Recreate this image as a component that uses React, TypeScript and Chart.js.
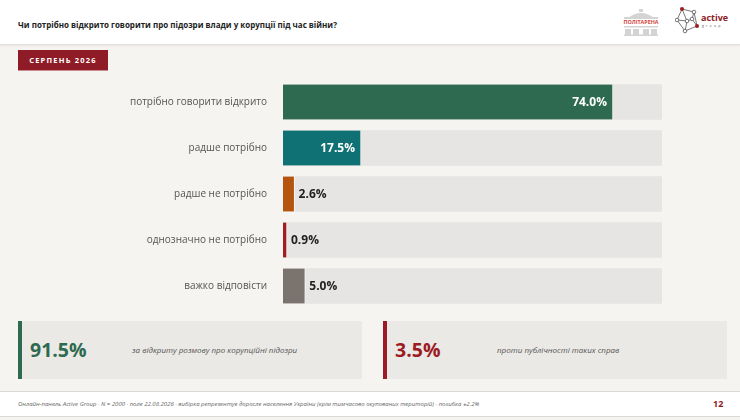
import React, { useEffect, useRef } from "react";
import { Chart, registerables } from "chart.js";

Chart.register(...registerables);

const titleText = "Чи потрібно відкрито говорити про підозри влади у корупції під час війни?";
const badgeText = "СЕРПЕНЬ 2026";
const categories = [
  "потрібно говорити відкрито",
  "радше потрібно",
  "радше не потрібно",
  "однозначно не потрібно",
  "важко відповісти",
];
const values = [74.0, 17.5, 2.6, 0.9, 5.0];
const barColors = ["#2e6a4f", "#0f7173", "#b5540e", "#a01d24", "#7b736d"];
const trackMax = 85;
const trackValues = categories.map(() => trackMax);
const summaryValues = [91.5, 3.5];
const summaryLabels = ["за відкриту розмову про корупційні підозри", "проти публічності таких справ"];
const summaryColors = ["#2e6a4f", "#9b1c24"];
const footerText =
  "Онлайн-панель Active Group · N = 2000 · поле 22.08.2026 · вибірка репрезентує доросле населення України (крім тимчасово окупованих територій) · похибка ±2.2%";
const pageNumber = "12";

const FONT = "'Open Sans', 'Noto Sans', 'DejaVu Sans', sans-serif";

const valueLabels = {
  id: "valueLabels",
  afterDatasetsDraw(chart: any) {
    const ctx = chart.ctx;
    const meta = chart.getDatasetMeta(0);
    ctx.save();
    ctx.font = `bold 12px ${FONT}`;
    ctx.textBaseline = "middle";
    meta.data.forEach((bar: any, i: number) => {
      const v = values[i];
      const txt = v.toFixed(1) + "%";
      if (v >= 10) {
        ctx.fillStyle = "#ffffff";
        ctx.textAlign = "right";
        ctx.fillText(txt, bar.x - 6, bar.y + 1);
      } else {
        ctx.fillStyle = "#222222";
        ctx.textAlign = "left";
        ctx.fillText(txt, bar.x + 4, bar.y + 1);
      }
    });
    ctx.restore();
  },
};

function PolitArenaLogo() {
  return (
    <svg width="40" height="30" viewBox="0 0 40 30" style={{ position: "absolute", left: 621, top: 6 }}>
      <path d="M7 12 Q20 2 33 12 Z" fill="#d4d4d4" />
      <rect x="18" y="3" width="4" height="3" fill="#d4d4d4" />
      <rect x="3" y="11" width="34" height="2" fill="#d4d4d4" />
      <text x="20" y="18" textAnchor="middle" fontSize="5.4" fontWeight="bold" fill="#d64541" fontFamily={FONT}>
        ПОЛІТАРЕНА
      </text>
      <rect x="3" y="20" width="34" height="1.5" fill="#d4d4d4" />
      <rect x="4" y="23" width="6" height="6" fill="#d4d4d4" />
      <rect x="12" y="23" width="6" height="6" fill="#d4d4d4" />
      <rect x="22" y="23" width="6" height="6" fill="#d4d4d4" />
      <rect x="30" y="23" width="6" height="6" fill="#d4d4d4" />
      <rect x="3" y="28.5" width="34" height="1.5" fill="#d4d4d4" />
    </svg>
  );
}

function ActiveLogo() {
  const nodes: [number, number, string][] = [
    [7, 3, "red"],
    [19, 6, "white"],
    [2, 14, "white"],
    [12, 15, "white"],
    [17, 13, "white"],
    [22, 20, "red"],
    [10, 25, "white"],
  ];
  const links = [
    [0, 1], [0, 2], [1, 4], [2, 3], [3, 4], [4, 5], [2, 6], [3, 6], [6, 5], [1, 5], [0, 3],
  ];
  return (
    <svg width="56" height="30" viewBox="0 0 56 30" style={{ position: "absolute", left: 675, top: 6 }}>
      {links.map(([a, b], i) => (
        <line key={i} x1={nodes[a][0]} y1={nodes[a][1]} x2={nodes[b][0]} y2={nodes[b][1]} stroke="#555" strokeWidth="0.8" />
      ))}
      {nodes.map(([x, y, c], i) => (
        <circle key={i} cx={x} cy={y} r={c === "red" ? 2 : 1.8} fill={c === "red" ? "#9b1c24" : "#fff"} stroke={c === "red" ? "none" : "#555"} strokeWidth="0.8" />
      ))}
      <text x="26" y="14.5" fontSize="9" fontWeight="bold" fill="#8e1b25" fontFamily={FONT}>
        active
      </text>
      <text x="27" y="21" fontSize="3.6" fill="#555" letterSpacing="2.1" fontFamily={FONT}>
        group
      </text>
    </svg>
  );
}

export default function App() {
  const canvasRef = useRef<HTMLCanvasElement | null>(null);

  useEffect(() => {
    if (!canvasRef.current) return;
    const chart = new Chart(canvasRef.current, {
      type: "bar",
      data: {
        labels: categories,
        datasets: [
          {
            data: values,
            backgroundColor: barColors,
            borderColor: "rgba(255,255,255,0.75)",
            borderWidth: { right: 1, left: 0, top: 0, bottom: 0 } as any,
            borderSkipped: false,
            barThickness: 35,
            grouped: false,
            order: 1,
          },
          {
            data: trackValues,
            backgroundColor: "#e6e5e3",
            borderWidth: 0,
            barThickness: 35,
            grouped: false,
            order: 2,
          },
        ],
      },
      plugins: [valueLabels],
      options: {
        indexAxis: "y",
        animation: false,
        responsive: false,
        maintainAspectRatio: false,
        events: [],
        layout: { padding: { left: 0, right: 78, top: 0, bottom: 0 } },
        scales: {
          x: { type: "linear", min: 0, max: trackMax, display: false },
          y: {
            type: "category",
            grid: { display: false, drawTicks: false },
            border: { display: false },
            ticks: {
              color: "#555555",
              padding: 16,
              font: { size: 10, family: FONT },
            },
            afterFit: (s: any) => {
              s.width = 283;
              s.paddingTop = 0;
              s.paddingBottom = 0;
            },
          },
        },
        plugins: { legend: { display: false }, tooltip: { enabled: false } },
      },
    });
    return () => chart.destroy();
  }, []);

  return (
    <div
      style={{
        position: "absolute",
        left: 0,
        top: 0,
        width: 740,
        height: 420,
        background: "#f5f4f1",
        fontFamily: FONT,
        overflow: "hidden",
      }}
    >
      <div
        style={{
          position: "absolute",
          left: 0,
          top: 0,
          width: 740,
          height: 44,
          background: "#ffffff",
          borderBottom: "1px solid #e1dfdb",
          boxShadow: "0 1px 2px rgba(0,0,0,0.06)",
        }}
      >
        <div
          style={{
            position: "absolute",
            left: 18,
            top: 19,
            fontSize: 8,
            fontWeight: 700,
            color: "#222",
            whiteSpace: "nowrap",
            lineHeight: "12px",
          }}
        >
          {titleText}
        </div>
        <PolitArenaLogo />
        <ActiveLogo />
      </div>

      <div
        style={{
          position: "absolute",
          left: 18,
          top: 50,
          width: 90,
          height: 21,
          background: "#8e1b25",
          color: "#fff",
          fontSize: 7.5,
          fontWeight: 700,
          letterSpacing: 1.2,
          lineHeight: "21px",
          textAlign: "center",
          boxSizing: "border-box",
          borderBottom: "1px solid #c98a90",
        }}
      >
        {badgeText}
      </div>

      <canvas
        ref={canvasRef}
        width={740}
        height={230}
        style={{ position: "absolute", left: 0, top: 78.5, width: 740, height: 230 }}
      />

      {summaryValues.map((v, i) => (
        <div
          key={i}
          style={{
            position: "absolute",
            left: i === 0 ? 18 : 383,
            top: 321,
            width: 344,
            height: 58,
            background: "#ebe9e6",
            borderLeft: `4px solid ${summaryColors[i]}`,
            boxSizing: "border-box",
          }}
        >
          <div
            style={{
              position: "absolute",
              left: 8,
              top: 16,
              fontSize: 19.5,
              fontWeight: 700,
              color: summaryColors[i],
              lineHeight: "26px",
              whiteSpace: "nowrap",
            }}
          >
            {v.toFixed(1)}%
          </div>
          <div
            style={{
              position: "absolute",
              left: 110,
              top: 23,
              fontSize: 8,
              fontStyle: "italic",
              color: "#555",
              lineHeight: "12px",
              whiteSpace: "nowrap",
            }}
          >
            {summaryLabels[i]}
          </div>
        </div>
      ))}

      <div
        style={{
          position: "absolute",
          left: 0,
          top: 391,
          width: 740,
          height: 24,
          background: "#ffffff",
          borderTop: "1px solid #dcdad6",
          borderBottom: "1px solid #dcdad6",
        }}
      >
        <div
          style={{
            position: "absolute",
            left: 18,
            top: 7,
            fontSize: 6,
            fontStyle: "italic",
            color: "#666",
            lineHeight: "10px",
            whiteSpace: "nowrap",
          }}
        >
          {footerText}
        </div>
        <div
          style={{
            position: "absolute",
            left: 713,
            top: 5,
            fontSize: 9,
            fontWeight: 700,
            color: "#8e1b25",
            lineHeight: "13px",
          }}
        >
          {pageNumber}
        </div>
      </div>
    </div>
  );
}
